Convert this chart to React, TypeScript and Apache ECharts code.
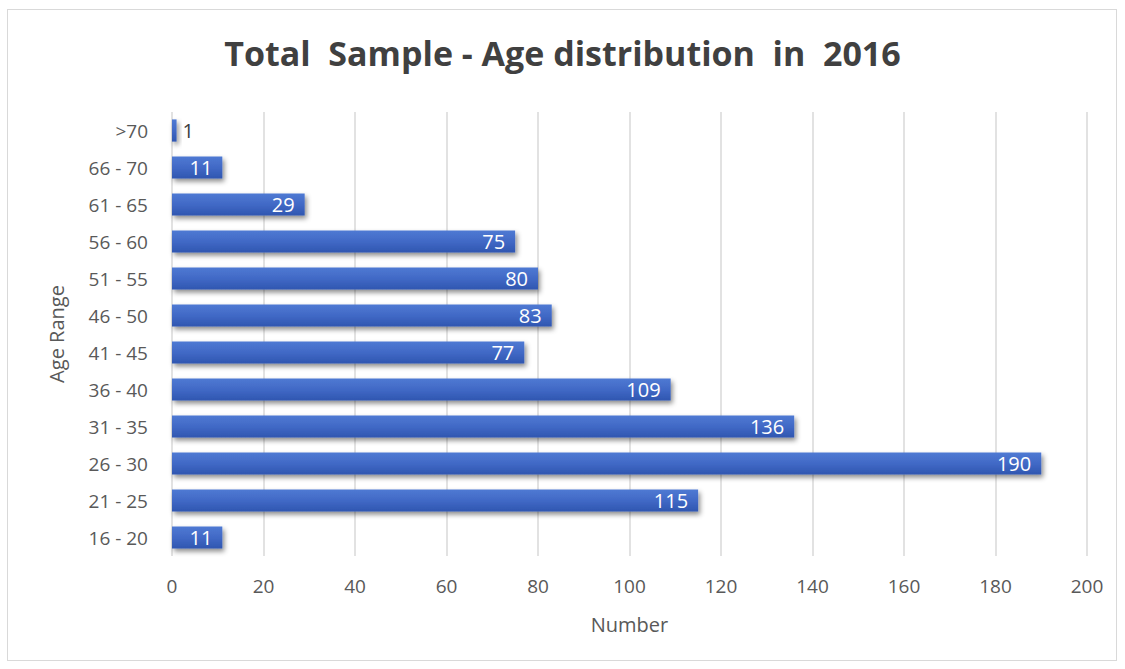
import React, { useEffect, useRef } from "react";
import * as echarts from "echarts";

const categories = ["16 - 20", "21 - 25", "26 - 30", "31 - 35", "36 - 40", "41 - 45", "46 - 50", "51 - 55", "56 - 60", "61 - 65", "66 - 70", ">70"];
const counts = [11, 115, 190, 136, 109, 77, 83, 80, 75, 29, 11, 1];
const xTicks = { min: 0, max: 200, interval: 20 };

const FONT = "'Open Sans', 'Noto Sans', sans-serif";

export default function App() {
  const ref = useRef<HTMLDivElement>(null);

  useEffect(() => {
    if (!ref.current) return;
    const chart = echarts.init(ref.current, null, { renderer: "svg" });
    const barColor = new echarts.graphic.LinearGradient(0, 0, 0, 1, [
      { offset: 0, color: "#4f7ad3" },
      { offset: 0.5, color: "#4169c6" },
      { offset: 1, color: "#2f56b0" },
    ]);
    chart.setOption({
      animation: false,
      backgroundColor: "transparent",
      title: {
        text: "Total  Sample - Age distribution  in  2016",
        left: "center",
        top: 31,
        textStyle: { fontFamily: FONT, fontSize: 34, fontWeight: "bold", color: "#404040" },
      },
      grid: { left: 172, right: 38, top: 112, bottom: 113, containLabel: false },
      xAxis: {
        type: "value",
        min: xTicks.min,
        max: xTicks.max,
        interval: xTicks.interval,
        name: "Number",
        nameLocation: "middle",
        nameGap: 58,
        nameTextStyle: { fontFamily: FONT, fontSize: 20, color: "#595959" },
        axisLine: { show: false },
        axisTick: { show: false },
        axisLabel: { fontFamily: FONT, fontSize: 19, color: "#595959", margin: 20 },
        splitLine: { lineStyle: { color: "#d9d9d9", width: 1.5 } },
      },
      yAxis: {
        type: "category",
        data: categories,
        name: "Age Range",
        nameLocation: "middle",
        nameGap: 106,
        nameTextStyle: { fontFamily: FONT, fontSize: 20, color: "#595959" },
        axisLine: { show: false },
        axisTick: { show: false },
        axisLabel: { fontFamily: FONT, fontSize: 19, color: "#595959", margin: 24 },
      },
      series: [
        {
          type: "bar",
          barCategoryGap: "40%",
          data: counts.map((v) =>
            v < 5
              ? { value: v, label: { position: "right", color: "#404040", distance: 6 } }
              : v
          ),
          itemStyle: {
            color: barColor,
            shadowColor: "rgba(0,0,0,0.45)",
            shadowBlur: 5,
            shadowOffsetX: 2,
            shadowOffsetY: 3,
          },
          label: {
            show: true,
            position: "insideRight",
            distance: 10,
            color: "#ffffff",
            fontFamily: FONT,
            fontSize: 20,
          },
        },
      ],
    });
    return () => chart.dispose();
  }, []);

  return (
    <div
      style={{
        position: "fixed",
        left: 0,
        top: 0,
        width: 1125,
        height: 669,
        background: "#fff",
      }}
    >
      <div
        style={{
          position: "absolute",
          left: 7,
          top: 9,
          width: 1110,
          height: 652,
          border: "1px solid #d9d9d9",
          boxSizing: "border-box",
        }}
      />
      <div ref={ref} style={{ position: "absolute", left: 0, top: 0, width: 1125, height: 669 }} />
    </div>
  );
}
